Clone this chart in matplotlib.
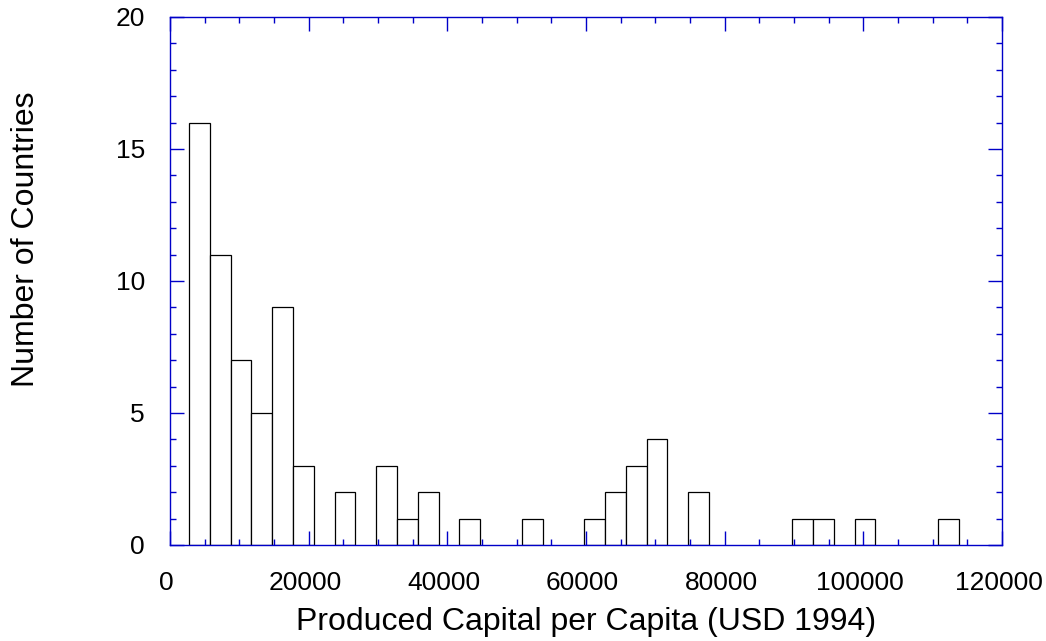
import numpy as np
import matplotlib
matplotlib.use("Agg")
import matplotlib.pyplot as plt
from matplotlib.ticker import MultipleLocator
from matplotlib.transforms import ScaledTranslation

# Histogram data: counts per bin (bins of equal width starting at bin_start)
bin_start = 2750
bin_width = 3000
counts = [16, 11, 7, 5, 9, 3, 0, 2, 0, 3, 1, 2, 0, 1, 0, 0, 1, 0, 0, 1,
          2, 3, 4, 0, 2, 0, 0, 0, 0, 1, 1, 0, 1, 0, 0, 0, 1]
x_ticks = [0, 20000, 40000, 60000, 80000, 100000, 120000]
y_ticks = [0, 5, 10, 15, 20]
x_label = "Produced Capital per Capita (USD 1994)"
y_label = "Number of Countries"

plt.rcParams['font.family'] = ['Liberation Sans', 'DejaVu Sans']

fig = plt.figure(figsize=(10.46, 6.41), dpi=100)
ax = fig.add_axes([170/1046, 96/641, 832/1046, 528/641])

edges = bin_start + bin_width * np.arange(len(counts) + 1)
lefts = edges[:-1]
cnt = np.array(counts)
mask = cnt > 0
ax.bar(lefts[mask], cnt[mask], width=bin_width, align='edge',
       facecolor='white', edgecolor='black', linewidth=0.9)

blue = '#0000c8'
for s in ax.spines.values():
    s.set_color(blue)
    s.set_linewidth(1.0)

ax.set_xlim(0, 120000)
ax.set_ylim(0, 20)
ax.set_xticks(x_ticks)
ax.set_yticks(y_ticks)
ax.xaxis.set_minor_locator(MultipleLocator(5000))
ax.yaxis.set_minor_locator(MultipleLocator(1))
ax.tick_params(which='both', direction='in', top=True, right=True,
               color=blue, width=1.0)
ax.tick_params(which='major', length=9.8, labelsize=19)
ax.tick_params(which='minor', length=4.3)
ax.tick_params(axis='x', which='major', pad=18.5)
ax.tick_params(axis='y', which='major', pad=18)

shift = ScaledTranslation(-3.5 / 100, 0, fig.dpi_scale_trans)
for lbl in ax.get_xticklabels():
    lbl.set_transform(lbl.get_transform() + shift)

ax.set_xlabel(x_label, fontsize=23, labelpad=9)
ax.set_ylabel(y_label, fontsize=23)
ax.yaxis.set_label_coords(-0.155, 0.58)

fig.savefig("out.png", dpi=100)
